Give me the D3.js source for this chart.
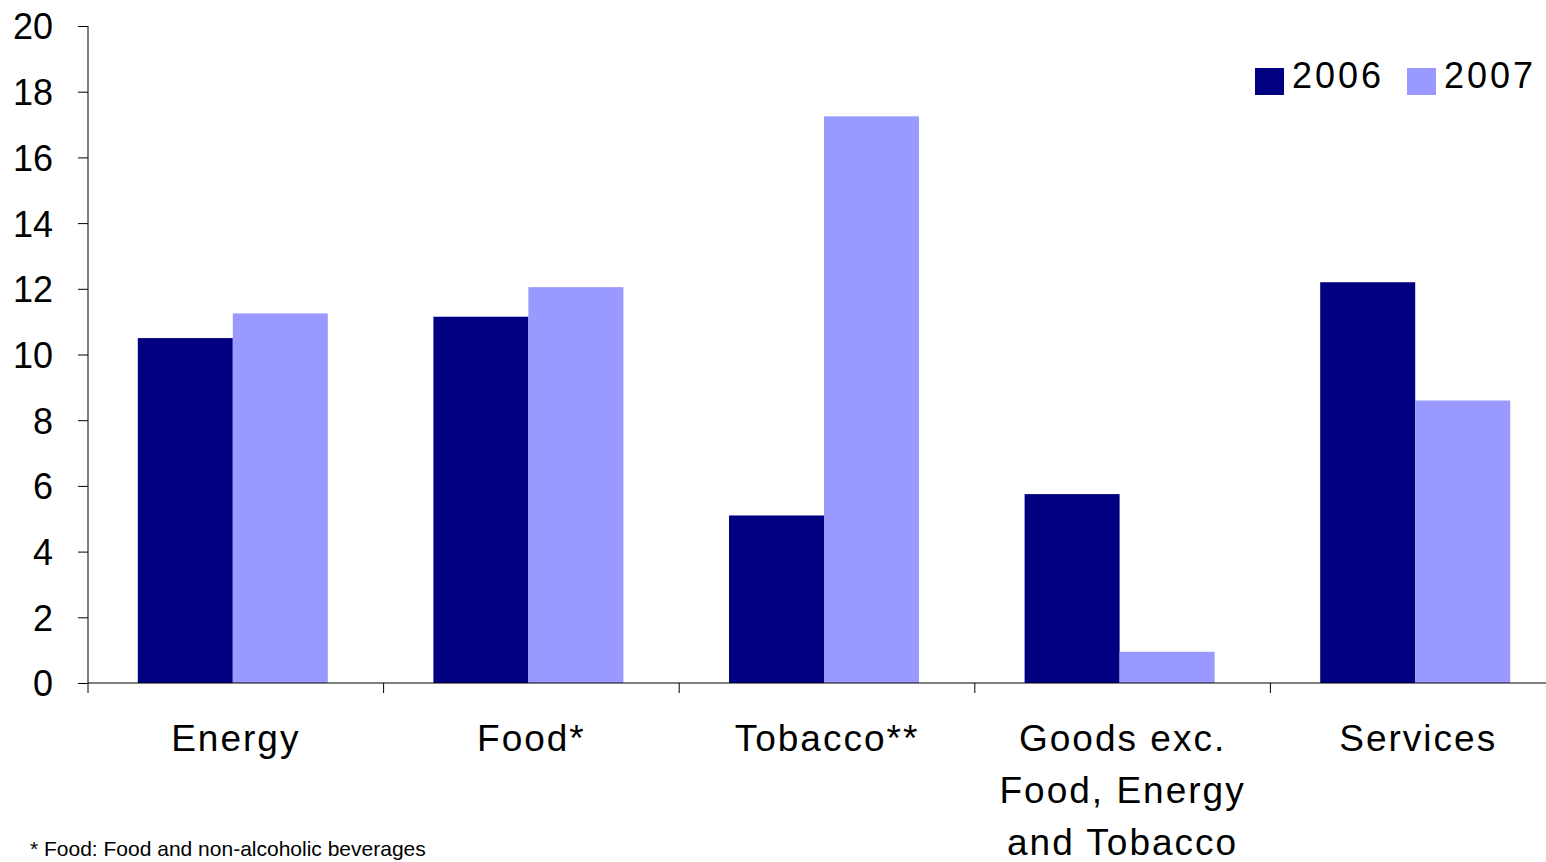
<!DOCTYPE html>
<html><head><meta charset="utf-8">
<script src="https://cdn.jsdelivr.net/npm/d3@7"></script>
<style>body{margin:0;background:#fff;} svg{display:block;font-family:"Liberation Sans",Arial,sans-serif;}</style>
</head><body>
<svg id="chart" width="1546" height="862"></svg>
<script>
const categories = [["Energy"],["Food*"],["Tobacco**"],["Goods exc.","Food, Energy","and Tobacco"],["Services"]];
const seriesNames = ["2006","2007"];
const values2006 = [10.5, 11.15, 5.1, 5.75, 12.2];
const values2007 = [11.25, 12.05, 17.25, 0.95, 8.6];
const yTicks = [0,2,4,6,8,10,12,14,16,18,20];
const colors = ["#000080","#9999FF"];
const footnote = "* Food: Food and non-alcoholic beverages";

const svg = d3.select("#chart");
const catKeys = categories.map((c,i)=>i);
const x = d3.scaleBand().domain(catKeys).range([88,1566]).paddingInner(0).paddingOuter(0);
const y = d3.scaleLinear().domain([0,20]).range([683,26]);
const groupW = 190;
const groupShift = -3;
const xs = d3.scaleBand().domain(seriesNames).range([0,groupW]);

// y axis
const yAxis = svg.append("g").attr("transform","translate(88,0)")
  .call(d3.axisLeft(y).tickValues(yTicks).tickSize(10).tickPadding(25));
yAxis.select(".domain").attr("stroke","#000").attr("d","M0,26V683");
yAxis.selectAll(".tick line").attr("stroke","#000");
yAxis.selectAll(".tick text").attr("font-size",36).attr("fill","#000")
  .attr("font-family","'Liberation Sans',Arial,sans-serif").attr("dy","0.36em");

// bars
const data = [values2006, values2007];
data.forEach((vals,si)=>{
  svg.append("g").selectAll("rect").data(vals).join("rect")
    .attr("x",(d,i)=>x(i)+(x.bandwidth()-groupW)/2+groupShift+xs(seriesNames[si]))
    .attr("width",xs.bandwidth())
    .attr("y",d=>y(d))
    .attr("height",d=>y(0)-y(d))
    .attr("fill",colors[si]);
});

// x axis
const xAxis = svg.append("g").attr("transform","translate(0,683)");
xAxis.append("line").attr("x1",88).attr("x2",1546).attr("y1",0).attr("y2",0).attr("stroke","#000");
const boundaries = catKeys.map(i=>x(i));
xAxis.selectAll(".bt").data(boundaries).join("line").attr("class","bt")
  .attr("x1",d=>d).attr("x2",d=>d).attr("y1",0).attr("y2",10).attr("stroke","#000");

// category labels
categories.forEach((lines,i)=>{
  const t = svg.append("text").attr("text-anchor","middle").attr("font-size",37)
    .attr("letter-spacing","2px").attr("fill","#000");
  lines.forEach((ln,j)=>{
    t.append("tspan").attr("x",x(i)+x.bandwidth()/2).attr("y",751+j*52).text(ln);
  });
});

// legend
const legX = [1255,1407];
seriesNames.forEach((s,i)=>{
  svg.append("rect").attr("x",legX[i]).attr("y",68).attr("width",29).attr("height",27).attr("fill",colors[i]);
  svg.append("text").attr("x",legX[i]+37).attr("y",88).attr("font-size",36).attr("letter-spacing","3px").attr("fill","#000").text(s);
});

// footnote
svg.append("text").attr("x",30).attr("y",856).attr("font-size",21).attr("fill","#000").text(footnote);
</script>
</body></html>
